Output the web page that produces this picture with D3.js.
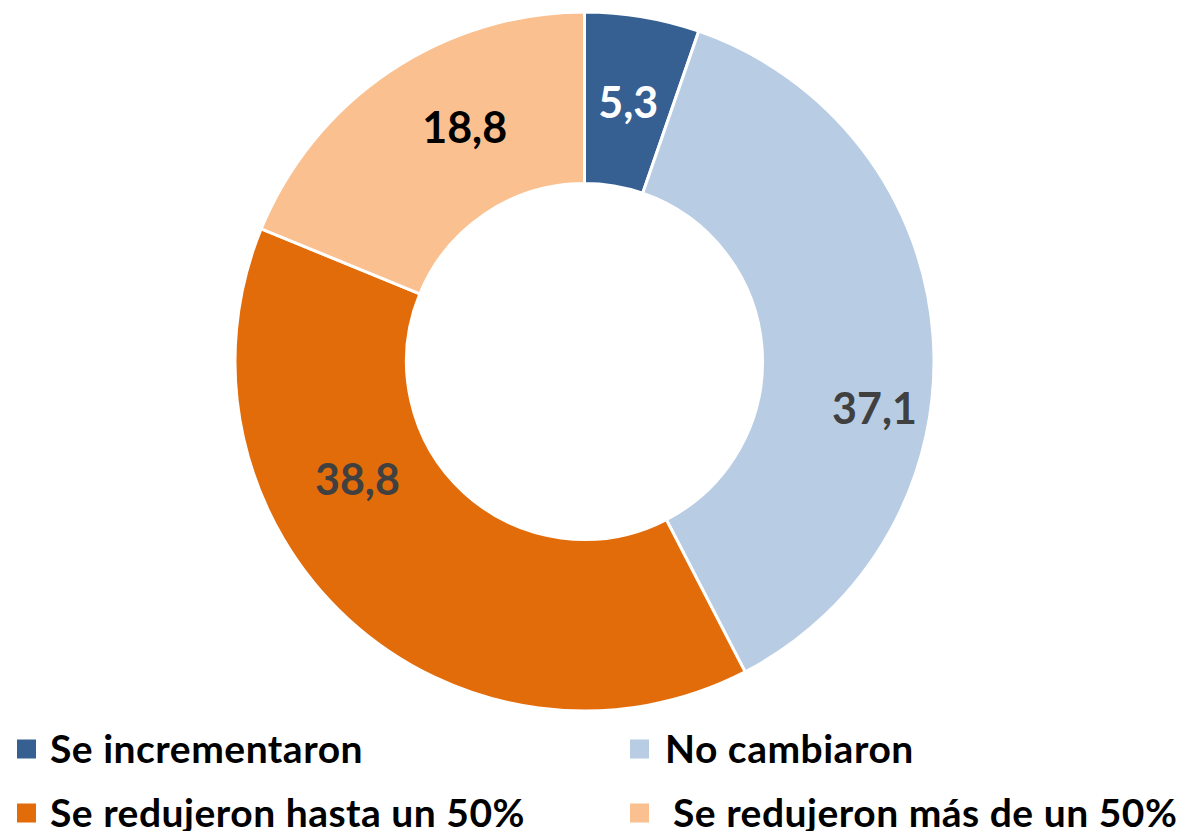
<!DOCTYPE html>
<html>
<head>
<meta charset="utf-8">
<script src="https://cdn.jsdelivr.net/npm/d3@7"></script>
<style>
  html, body { margin: 0; padding: 0; background: #fff; }
  svg { display: block; font-family: Lato, "Open Sans", sans-serif; font-weight: bold; }
</style>
</head>
<body>
<script>
// data
const categories = ["Se incrementaron", "No cambiaron", "Se redujeron hasta un 50%", "Se redujeron más de un 50%"];
const values = [5.3, 37.1, 38.8, 18.8];
const valueLabels = ["5,3", "37,1", "38,8", "18,8"];

const colors = ["#366092", "#B8CCE4", "#E36C0A", "#FAC090"];
const labelColors = ["#ffffff", "#404040", "#404040", "#000000"];
// Excel moved some labels away from the centroid
const labelNudge = [[0, 0], [27, 65], [-49, -78], [27, -16]];

const w = 1179;
const h = 831;
const cx = 584.5;
const cy = 361.5;
const outerR = 349.5;
const innerR = 178;

const svg = d3.select("body")
  .append("svg")
  .attr("width", w)
  .attr("height", h);

const pie = d3.pie().sort(null).value(d => d)(values);
const arc = d3.arc().innerRadius(innerR).outerRadius(outerR);

const g = svg.append("g")
  .attr("transform", "translate(" + cx + "," + cy + ")");

g.selectAll("path")
  .data(pie)
  .enter()
  .append("path")
  .attr("d", arc)
  .attr("fill", (d, i) => colors[i])
  .attr("stroke", "#fff")
  .attr("stroke-width", 3);

g.selectAll("text.val")
  .data(pie)
  .enter()
  .append("text")
  .attr("class", "val")
  .attr("x", (d, i) => arc.centroid(d)[0] + labelNudge[i][0])
  .attr("y", (d, i) => arc.centroid(d)[1] + labelNudge[i][1])
  .attr("text-anchor", "middle")
  .attr("dominant-baseline", "central")
  .attr("font-size", 43)
  .attr("fill", (d, i) => labelColors[i])
  .text((d, i) => valueLabels[i]);

// legend, two columns
const legX = [17, 630];
const legY = [749, 813];
const textX = [33, 35, 33, 43];
const leg = svg.selectAll("g.leg")
  .data(categories)
  .enter()
  .append("g")
  .attr("class", "leg")
  .attr("transform", (d, i) => "translate(" + legX[i % 2] + "," + legY[Math.floor(i / 2)] + ")");

leg.append("rect")
  .attr("x", 0)
  .attr("y", -9.5)
  .attr("width", 19)
  .attr("height", 19)
  .attr("fill", (d, i) => colors[i]);

leg.append("text")
  .attr("x", (d, i) => textX[i])
  .attr("y", 13.5)
  .attr("font-size", 39)
  .attr("letter-spacing", 0.5)
  .attr("fill", "#000")
  .text(d => d);
</script>
</body>
</html>
